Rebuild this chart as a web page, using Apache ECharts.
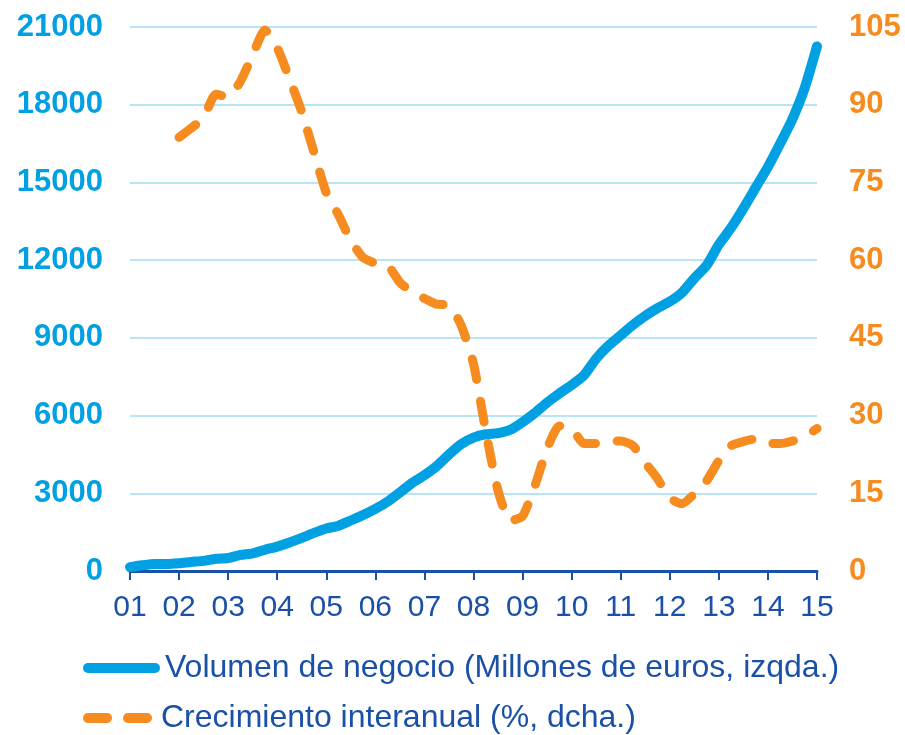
<!DOCTYPE html>
<html>
<head>
<meta charset="utf-8">
<script src="https://cdn.jsdelivr.net/npm/echarts@6/dist/echarts.min.js"></script>
<style>
  html, body { margin: 0; padding: 0; background: #fff; }
  #chart { width: 905px; height: 735px; }
</style>
</head>
<body>
<div id="chart"></div>
<script>
// years on the x axis, data is quarterly (Q1 2001 .. Q1 2015)
var years = ['01', '02', '03', '04', '05', '06', '07', '08', '09', '10', '11', '12', '13', '14', '15'];

// Volumen de negocio, millones de euros (left axis)
var volumen = [
  150, 220, 270, 270, 300, 350, 390, 470, 500, 620, 680, 820,
  940, 1100, 1280, 1470, 1640, 1750, 1950, 2160, 2400, 2680, 3030, 3400,
  3700, 4050, 4500, 4900, 5150, 5280, 5320, 5450, 5750, 6100, 6500, 6850,
  7180, 7550, 8200, 8700, 9100, 9500, 9850, 10150, 10400, 10750, 11300, 11800,
  12600, 13250, 14000, 14800, 15600, 16500, 17450, 18650, 20250
];

// Crecimiento interanual, % (right axis) - starts one year later
var crecimiento = [
  null, null, null, null, 83.7, 85.5, 87.5, 92, 91.5, 94.5, 99.6, 104.4,
  101, 95, 88.6, 80.8, 73, 68.7, 63.8, 60.5, 59.4, 59, 55.7, 53.8,
  52.6, 51.5, 51.3, 47.4, 40, 27, 15.5, 9.7, 10.6, 16.4, 23.6, 28,
  27.5, 24.6, 24.6, 25, 25.1, 24.2, 20.9, 17.8, 14.1, 13, 14.9, 17.4,
  21.3, 24.2, 25, 25.5, 24.6, 24.6, 25.1, 26, 27.5
];

var leftTicks = { min: 0, max: 21000, interval: 3000 };
var rightTicks = { min: 0, max: 105, interval: 15 };

var quarters = [];
for (var y = 0; y < years.length; y++) {
  for (var q = 1; q <= 4; q++) {
    quarters.push(years[y] + 'T' + q);
    if (y == years.length - 1) break;
  }
}

var FONT = '"Liberation Sans", Arial, sans-serif';
var darkBlue = '#1a50a6';
var cyan = '#00a0e2';
var orange = '#f68b1f';

var nameVol = 'Volumen de negocio (Millones de euros, izqda.)';
var nameCrec = 'Crecimiento interanual (%, dcha.)';

var legendBase = function (top, name, icon, color) {
  return {
    orient: 'vertical',
    left: 83,
    top: top,
    padding: 0,
    itemWidth: 77,
    itemHeight: 10,
    textStyle: {
      color: darkBlue,
      fontSize: 32,
      fontFamily: FONT
    },
    data: [{ name: name, icon: icon, itemStyle: { color: color } }]
  };
};

var myChart = echarts.init(document.getElementById('chart'));
var option = {
  backgroundColor: '#ffffff',
  animation: false,
  grid: {
    left: 130,
    right: 88,
    top: 27,
    bottom: 164
  },
  legend: [
    legendBase(652, nameVol,
      'path://M5,0 L72,0 A5,5 0 0 1 72,10 L5,10 A5,5 0 0 1 5,0 Z', cyan),
    legendBase(702, nameCrec,
      'path://M5,0 L24,0 A5,5 0 0 1 24,10 L5,10 A5,5 0 0 1 5,0 Z M45,0 L64,0 A5,5 0 0 1 64,10 L45,10 A5,5 0 0 1 45,0 Z', orange)
  ],
  xAxis: {
    type: 'category',
    boundaryGap: false,
    data: quarters,
    axisLine: {
      lineStyle: { color: darkBlue, width: 3 }
    },
    axisTick: {
      interval: 3,
      length: 9,
      lineStyle: { color: darkBlue, width: 2 }
    },
    axisLabel: {
      interval: 3,
      margin: 22,
      color: darkBlue,
      fontSize: 30,
      fontFamily: FONT,
      formatter: function (v) {
        return v.slice(0, 2);
      }
    },
    splitLine: { show: false }
  },
  yAxis: [
    {
      type: 'value',
      min: leftTicks.min,
      max: leftTicks.max,
      interval: leftTicks.interval,
      axisLine: { show: false },
      axisTick: { show: false },
      axisLabel: {
        margin: 27,
        color: cyan,
        fontSize: 31,
        fontWeight: 'bold',
        fontFamily: FONT,
        formatter: function (v) { return String(v); }
      },
      splitLine: {
        lineStyle: { color: '#b7e4f6', width: 2 }
      }
    },
    {
      type: 'value',
      min: rightTicks.min,
      max: rightTicks.max,
      interval: rightTicks.interval,
      axisLine: { show: false },
      axisTick: { show: false },
      axisLabel: {
        margin: 32,
        color: orange,
        fontSize: 31,
        fontWeight: 'bold',
        fontFamily: FONT
      },
      splitLine: { show: false }
    }
  ],
  series: [
    {
      name: nameVol,
      type: 'line',
      yAxisIndex: 0,
      showSymbol: false,
      smooth: 0.2,
      z: 3,
      itemStyle: { color: cyan },
      lineStyle: { color: cyan, width: 10, cap: 'round', join: 'round' },
      data: volumen
    },
    {
      name: nameCrec,
      type: 'line',
      yAxisIndex: 1,
      showSymbol: false,
      smooth: 0.2,
      z: 4,
      itemStyle: { color: orange },
      lineStyle: {
        color: orange,
        width: 9,
        type: [21, 22],
        cap: 'round',
        join: 'round'
      },
      data: crecimiento
    }
  ]
};
myChart.setOption(option);
</script>
</body>
</html>
